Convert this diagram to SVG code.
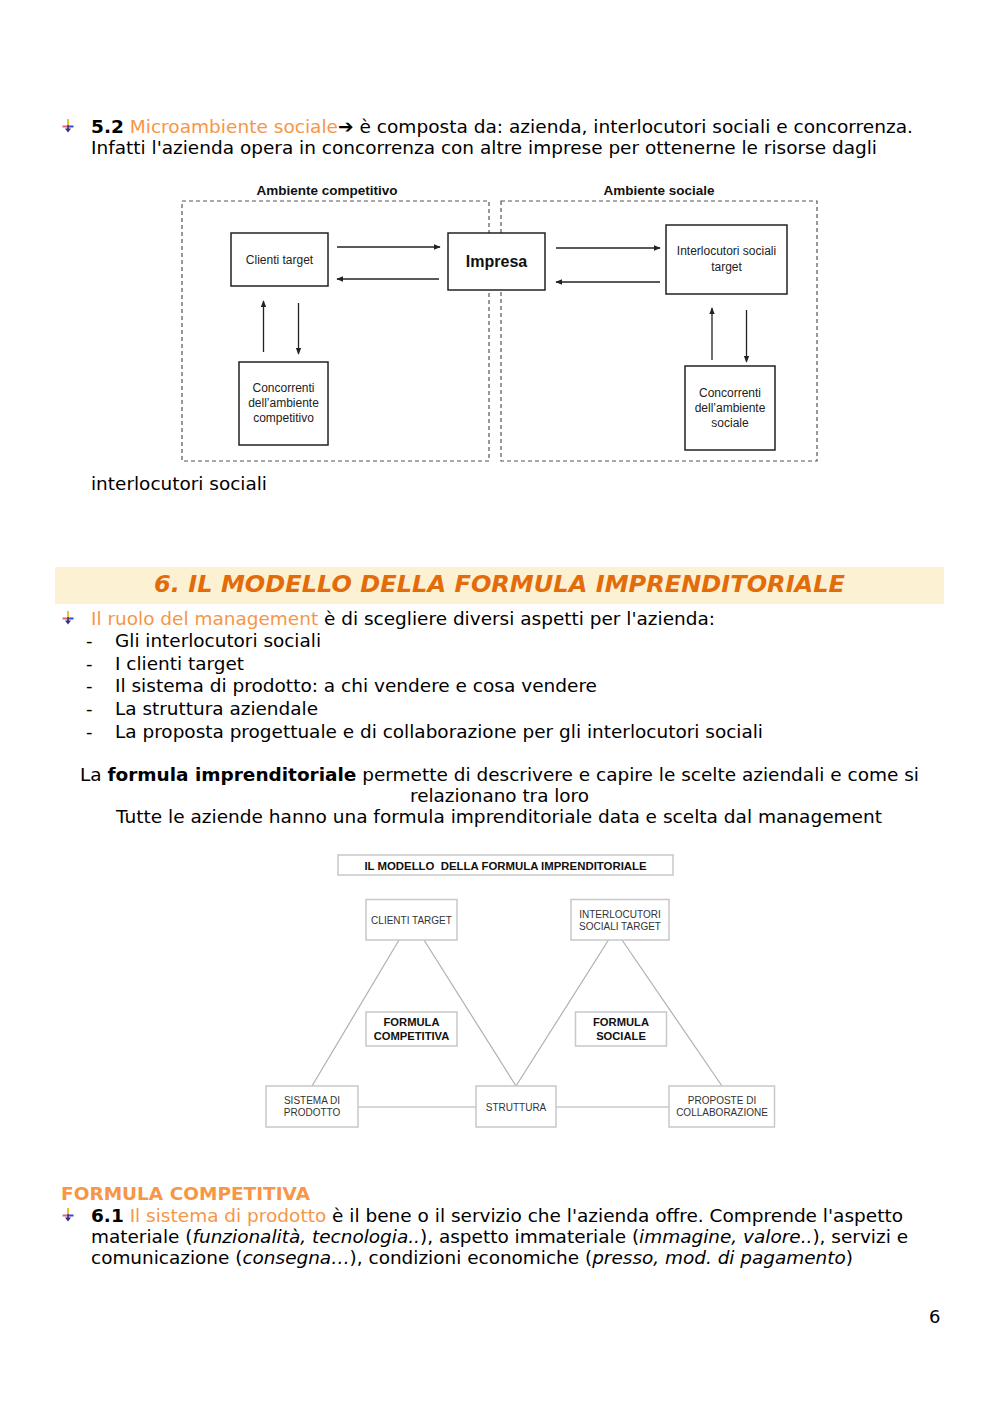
<svg xmlns="http://www.w3.org/2000/svg" width="1000" height="1414" viewBox="0 0 1000 1414">
<style>
.t{font-family:"DejaVu Sans",sans-serif;font-size:18px;fill:#000}
.o{fill:#F79646}
.b{font-weight:bold}
.i{font-style:italic}
.d1{font-family:"Liberation Sans",Arial,sans-serif;font-size:12px;fill:#222;text-anchor:middle}
.d1b{font-family:"Liberation Sans",Arial,sans-serif;font-size:13.5px;font-weight:bold;fill:#111;text-anchor:middle}
.d2{font-family:"Liberation Sans",Arial,sans-serif;font-size:10px;fill:#333;text-anchor:middle}
.d2b{font-family:"Liberation Sans",Arial,sans-serif;font-size:11.2px;font-weight:bold;fill:#111;text-anchor:middle}
.box1{fill:#fff;stroke:#222;stroke-width:1.5}
.dash{fill:none;stroke:#555;stroke-width:1.2;stroke-dasharray:4 3}
.ar{stroke:#222;stroke-width:1.3;fill:none;marker-end:url(#ah)}
.box2{fill:#fff;stroke:#c8c8c8;stroke-width:1.5}
.ln2{stroke:#b0b0b0;stroke-width:1.2;fill:none}
</style>
<defs>
<marker id="ah" viewBox="0 0 10 10" refX="9" refY="5" markerWidth="7" markerHeight="7" markerUnits="userSpaceOnUse" orient="auto">
<path d="M0,1 L10,5 L0,9 z" fill="#222"/>
</marker>
<g id="bul">
<line x1="0" y1="-7" x2="0" y2="-1" stroke="#e8c030" stroke-width="2"/>
<line x1="-5.5" y1="0.5" x2="0" y2="0.5" stroke="#e06080" stroke-width="2"/>
<line x1="0" y1="0.5" x2="5.5" y2="0.5" stroke="#3050c0" stroke-width="2"/>
<line x1="0" y1="-1" x2="0" y2="3" stroke="#6a3090" stroke-width="1.8"/>
<path d="M-3,2.5 L3,2.5 L0,6.5 z" fill="#303080"/>
</g>
</defs>
<rect width="1000" height="1414" fill="#fff"/>

<!-- Text 5.2 -->
<use href="#bul" x="68" y="126"/>
<text class="t" x="91" y="133" textLength="822" lengthAdjust="spacingAndGlyphs"><tspan class="b">5.2</tspan><tspan class="o"> Microambiente sociale</tspan><tspan class="b">➔</tspan> è composta da: azienda, interlocutori sociali e concorrenza.</text>
<text class="t" x="91" y="154" textLength="786" lengthAdjust="spacingAndGlyphs">Infatti l'azienda opera in concorrenza con altre imprese per ottenerne le risorse dagli</text>

<!-- Diagram 1 -->
<g id="diagram1">
<text class="d1b" x="327" y="195">Ambiente competitivo</text>
<text class="d1b" x="659" y="195">Ambiente sociale</text>
<rect class="dash" x="182" y="201" width="307" height="260"/>
<rect class="dash" x="501" y="201" width="316" height="260"/>
<g id="clienti"><rect class="box1" x="231" y="233" width="97" height="53"/><text class="d1" x="279.5" y="264">Clienti target</text></g>
<g id="impresa"><rect class="box1" x="448" y="233" width="97" height="57"/><text class="d1b" x="496.5" y="267" style="font-size:16px">Impresa</text></g>
<g id="interlocutori"><rect class="box1" x="666" y="225" width="121" height="69"/><text class="d1" x="726.5" y="255">Interlocutori sociali</text><text class="d1" x="726.5" y="271">target</text></g>
<g id="concorrenti-comp"><rect class="box1" x="239" y="362" width="89" height="83"/><text class="d1" x="283.5" y="392">Concorrenti</text><text class="d1" x="283.5" y="407">dell’ambiente</text><text class="d1" x="283.5" y="422">competitivo</text></g>
<g id="concorrenti-soc"><rect class="box1" x="685" y="366" width="90" height="84"/><text class="d1" x="730" y="397">Concorrenti</text><text class="d1" x="730" y="412">dell’ambiente</text><text class="d1" x="730" y="427">sociale</text></g>
<g id="connectors1">
<line class="ar" x1="337" y1="247" x2="440" y2="247"/>
<line class="ar" x1="439" y1="279" x2="337" y2="279"/>
<line class="ar" x1="556" y1="248" x2="660" y2="248"/>
<line class="ar" x1="660" y1="282" x2="556" y2="282"/>
<line class="ar" x1="263.5" y1="352" x2="263.5" y2="301"/>
<line class="ar" x1="298.5" y1="303" x2="298.5" y2="354"/>
<line class="ar" x1="712" y1="360" x2="712" y2="308"/>
<line class="ar" x1="746.5" y1="310" x2="746.5" y2="362"/>
</g>
</g>

<text class="t" x="91" y="490" textLength="176" lengthAdjust="spacingAndGlyphs">interlocutori sociali</text>

<!-- Section 6 header -->
<rect x="55" y="567" width="889" height="37" fill="#FDF1D3"/>
<text x="154" y="592" textLength="691" lengthAdjust="spacingAndGlyphs" style="font-family:'DejaVu Sans',sans-serif;font-size:23px;font-weight:bold;font-style:italic;fill:#E36C0A">6. IL MODELLO DELLA FORMULA IMPRENDITORIALE</text>

<use href="#bul" x="68" y="618"/>
<text class="t" x="91" y="625" textLength="624" lengthAdjust="spacingAndGlyphs"><tspan class="o">Il ruolo del management</tspan> è di scegliere diversi aspetti per l'azienda:</text>
<text class="t" x="86" y="647">-</text><text class="t" x="115" y="647" textLength="206" lengthAdjust="spacingAndGlyphs">Gli interlocutori sociali</text>
<text class="t" x="86" y="670">-</text><text class="t" x="115" y="670" textLength="129" lengthAdjust="spacingAndGlyphs">I clienti target</text>
<text class="t" x="86" y="692">-</text><text class="t" x="115" y="692" textLength="482" lengthAdjust="spacingAndGlyphs">Il sistema di prodotto: a chi vendere e cosa vendere</text>
<text class="t" x="86" y="715">-</text><text class="t" x="115" y="715" textLength="203" lengthAdjust="spacingAndGlyphs">La struttura aziendale</text>
<text class="t" x="86" y="738">-</text><text class="t" x="115" y="738" textLength="648" lengthAdjust="spacingAndGlyphs">La proposta progettuale e di collaborazione per gli interlocutori sociali</text>

<text class="t" x="80" y="781" textLength="839" lengthAdjust="spacingAndGlyphs">La <tspan class="b">formula imprenditoriale</tspan> permette di descrivere e capire le scelte aziendali e come si</text>
<text class="t" x="410" y="802" textLength="179" lengthAdjust="spacingAndGlyphs">relazionano tra loro</text>
<text class="t" x="116" y="823" textLength="766" lengthAdjust="spacingAndGlyphs">Tutte le aziende hanno una formula imprenditoriale data e scelta dal management</text>

<!-- Diagram 2 -->
<g id="diagram2">
<g id="connectors2">
<line class="ln2" x1="399" y1="940" x2="312" y2="1086"/>
<line class="ln2" x1="424" y1="940" x2="516" y2="1086"/>
<line class="ln2" x1="516" y1="1086" x2="608.5" y2="940"/>
<line class="ln2" x1="622" y1="940" x2="722" y2="1086"/>
<line class="ln2" x1="358" y1="1107" x2="476" y2="1107"/>
<line class="ln2" x1="556" y1="1107" x2="669" y2="1107"/>
</g>
<g id="titolo"><rect class="box2" x="338" y="855" width="335" height="20"/><text class="d2b" x="505.5" y="869.5" style="font-size:11.4px;white-space:pre">IL MODELLO  DELLA FORMULA IMPRENDITORIALE</text></g>
<g id="clienti-target"><rect class="box2" x="366" y="899.5" width="91" height="40.5"/><text class="d2" x="411.5" y="923.5">CLIENTI TARGET</text></g>
<g id="interlocutori-target"><rect class="box2" x="571" y="899.5" width="98" height="40.5"/><text class="d2" x="620" y="917.5">INTERLOCUTORI</text><text class="d2" x="620" y="929.5">SOCIALI TARGET</text></g>
<g id="formula-competitiva"><rect class="box2" x="366" y="1012" width="91" height="34"/><text class="d2b" x="411.5" y="1026">FORMULA</text><text class="d2b" x="411.5" y="1040">COMPETITIVA</text></g>
<g id="formula-sociale"><rect class="box2" x="575.5" y="1012" width="91" height="34"/><text class="d2b" x="621" y="1026">FORMULA</text><text class="d2b" x="621" y="1040">SOCIALE</text></g>
<g id="sistema"><rect class="box2" x="266" y="1086" width="92" height="41"/><text class="d2" x="312" y="1103.5">SISTEMA DI</text><text class="d2" x="312" y="1115.5">PRODOTTO</text></g>
<g id="struttura"><rect class="box2" x="476" y="1086" width="80" height="41"/><text class="d2" x="516" y="1110.5">STRUTTURA</text></g>
<g id="proposte"><rect class="box2" x="669" y="1086" width="105.5" height="41"/><text class="d2" x="722" y="1103.5">PROPOSTE DI</text><text class="d2" x="722" y="1115.5">COLLABORAZIONE</text></g>
</g>

<!-- Formula competitiva -->
<text class="t b" x="61" y="1200" textLength="249" lengthAdjust="spacingAndGlyphs" style="fill:#F79646">FORMULA COMPETITIVA</text>
<use href="#bul" x="68" y="1215"/>
<text class="t" x="91" y="1222" textLength="812" lengthAdjust="spacingAndGlyphs"><tspan class="b">6.1</tspan><tspan class="o"> Il sistema di prodotto</tspan> è il bene o il servizio che l'azienda offre. Comprende l'aspetto</text>
<text class="t" x="91" y="1243" textLength="817" lengthAdjust="spacingAndGlyphs">materiale (<tspan class="i">funzionalità, tecnologia..</tspan>), aspetto immateriale (<tspan class="i">immagine, valore..</tspan>), servizi e</text>
<text class="t" x="91" y="1264" textLength="762" lengthAdjust="spacingAndGlyphs">comunicazione (<tspan class="i">consegna…</tspan>), condizioni economiche (<tspan class="i">presso, mod. di pagamento</tspan>)</text>

<text class="t" x="929" y="1323">6</text>
</svg>
